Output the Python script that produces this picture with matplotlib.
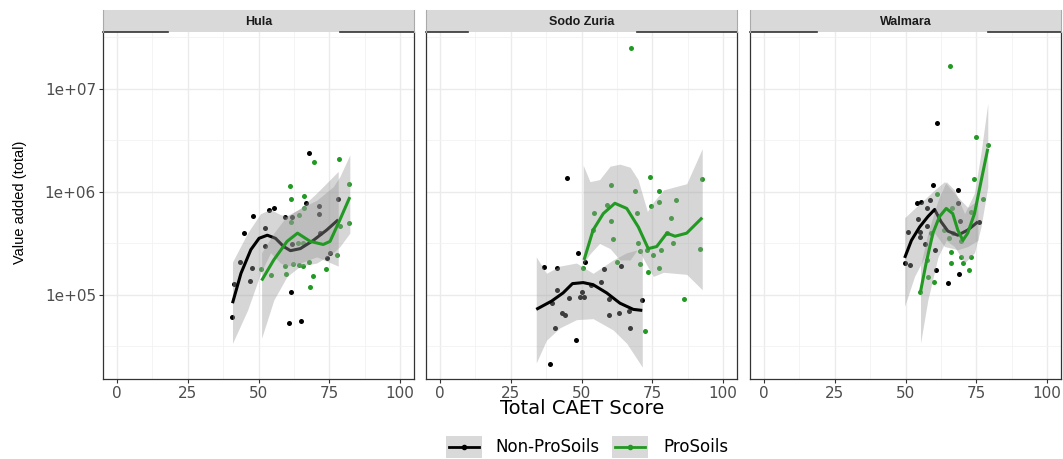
import numpy as np
import matplotlib.pyplot as plt
from matplotlib.patches import Rectangle
from matplotlib.lines import Line2D

districts = ["Hula", "Sodo Zuria", "Walmara"]
groups = ["Non-ProSoils", "ProSoils"]
group_colors = ["black", "#229922"]

# --- raw points: CAET score and log10(value added) ---
hula_non_x = [68.0, 55.4, 53.7, 48.1, 59.3, 61.8, 66.8, 71.5, 71.5, 78.2, 44.7, 52.3, 52.3,
              47.7, 47.0, 43.5, 41.4, 40.6, 61.6, 60.7, 65.2, 71.8, 74.1, 75.3, 62.0]
hula_non_y = [6.38, 5.84, 5.82, 5.77, 5.76, 5.76, 5.89, 5.86, 5.79, 5.93, 5.60, 5.65, 5.48,
              5.26, 5.14, 5.32, 5.11, 4.79, 5.03, 4.73, 4.75, 5.60, 5.36, 5.41, 5.49]
hula_pro_x = [69.8, 78.5, 61.3, 61.6, 66.2, 66.2, 64.5, 82.0, 82.0, 78.8, 61.5, 77.9, 73.8,
              69.4, 68.3, 67.7, 64.5, 65.9, 62.2, 59.8, 59.3, 54.5, 50.8, 65.9, 64.0]
hula_pro_y = [6.29, 6.32, 6.06, 5.93, 5.96, 5.84, 5.78, 6.08, 5.70, 5.67, 5.71, 5.39, 5.25,
              5.18, 5.08, 5.32, 5.29, 5.28, 5.30, 5.20, 5.28, 5.19, 5.25, 5.50, 5.50]

sodo_non_x = [44.7, 48.9, 36.6, 41.3, 64.1, 41.4, 45.5, 39.4, 43.0, 44.2, 40.8, 48.2, 38.9,
              50.2, 49.4, 51.0, 56.9, 58.0, 59.8, 59.8, 63.4, 66.7, 67.1, 71.5, 51.4, 53.4]
sodo_non_y = [6.14, 5.41, 5.27, 5.26, 5.28, 5.05, 4.97, 4.92, 4.82, 4.81, 4.68, 4.56, 4.33,
              5.03, 4.98, 4.98, 5.13, 5.25, 4.96, 4.81, 4.82, 4.84, 4.68, 4.95, 5.32, 5.10]
sodo_pro_x = [67.6, 74.2, 77.4, 77.4, 74.5, 83.3, 92.7, 60.4, 69.0, 58.9, 54.3, 69.6, 81.6,
              60.4, 54.0, 80.1, 61.1, 70.1, 82.2, 70.7, 73.0, 78.0, 92.0, 75.4, 62.6, 70.8,
              77.5, 73.4, 50.6, 86.4, 72.6]
sodo_pro_y = [7.40, 6.15, 6.01, 5.90, 5.86, 5.92, 6.13, 6.07, 6.01, 5.87, 5.80, 5.80, 5.75,
              5.72, 5.63, 5.60, 5.54, 5.50, 5.50, 5.43, 5.44, 5.44, 5.45, 5.39, 5.32, 5.30,
              5.26, 5.22, 5.26, 4.96, 4.65]

walm_non_x = [61.0, 59.9, 68.5, 68.5, 54.1, 55.6, 58.5, 57.7, 54.4, 51.0, 55.2, 55.3, 57.7,
              56.8, 60.5, 49.7, 51.7, 60.8, 68.9, 65.0, 75.9, 69.1]
walm_non_y = [6.67, 6.07, 6.02, 5.89, 5.89, 5.90, 5.92, 5.84, 5.74, 5.61, 5.61, 5.56, 5.67,
              5.49, 5.44, 5.31, 5.29, 5.24, 5.20, 5.12, 5.71, 5.72]
walm_pro_x = [65.9, 75.0, 79.1, 74.1, 77.4, 61.1, 66.4, 73.2, 63.6, 59.1, 66.7, 65.3, 69.7,
              66.2, 69.7, 73.2, 57.6, 66.2, 70.4, 72.6, 57.9, 60.0, 55.3]
walm_pro_y = [7.22, 6.53, 6.46, 6.13, 5.93, 5.98, 5.84, 5.81, 5.63, 5.60, 5.60, 5.55, 5.52,
              5.42, 5.37, 5.37, 5.34, 5.31, 5.31, 5.24, 5.17, 5.13, 5.03]

# --- loess fits (log10 scale) ---
hula_non_fit_x = [40.8, 43.8, 47.3, 50.2, 53.1, 56.0, 58.9, 61.3, 64.8, 69.4, 74.1, 78.2]
hula_non_fit = [4.92, 5.21, 5.44, 5.55, 5.58, 5.55, 5.47, 5.43, 5.45, 5.53, 5.63, 5.73]
hula_non_band_x = [40.8, 46.1, 50.75, 54.25, 57.75, 60.1, 64.75, 70.6, 78.2]
hula_non_hi = [5.32, 5.60, 5.79, 5.83, 5.78, 5.76, 5.84, 5.99, 6.20]
hula_non_lo = [4.53, 4.85, 5.21, 5.41, 5.31, 5.28, 5.31, 5.37, 5.28]

hula_pro_fit_x = [51.1, 55.4, 60.1, 63.8, 68.3, 72.9, 75.3, 78.8, 82.3]
hula_pro_fit = [5.14, 5.34, 5.52, 5.60, 5.52, 5.49, 5.52, 5.73, 5.95]
hula_pro_band_x = [51.1, 55.4, 60.1, 64.8, 70.6, 76.4, 78.8, 82.3]
hula_pro_hi = [5.41, 5.60, 5.77, 5.84, 5.92, 6.05, 6.15, 6.36]
hula_pro_lo = [4.58, 4.95, 5.18, 5.28, 5.31, 5.41, 5.47, 5.60]

sodo_non_fit_x = [34.0, 39.4, 43.5, 46.8, 50.6, 54.1, 58.9, 63.6, 68.3, 71.5]
sodo_non_fit = [4.86, 4.94, 5.02, 5.11, 5.12, 5.10, 5.02, 4.92, 4.86, 4.85]
sodo_non_band_x = [34.0, 37.6, 42.3, 48.2, 54.1, 61.2, 66.0, 71.5]
sodo_non_hi = [5.37, 5.21, 5.28, 5.31, 5.21, 5.34, 5.41, 5.45]
sodo_non_lo = [4.34, 4.56, 4.68, 4.76, 4.77, 4.66, 4.53, 4.30]

sodo_pro_fit_x = [50.9, 54.1, 57.7, 61.8, 66.0, 70.1, 73.6, 76.6, 80.2, 83.1, 87.2, 92.7]
sodo_pro_fit = [5.34, 5.63, 5.79, 5.89, 5.84, 5.66, 5.45, 5.47, 5.60, 5.57, 5.60, 5.75]
sodo_pro_band_x = [50.6, 53.0, 56.4, 60.1, 63.6, 67.2, 70.0, 73.3, 75.4, 79.0, 87.2, 92.7]
sodo_pro_hi = [6.26, 6.10, 6.12, 6.25, 6.27, 6.24, 6.12, 5.81, 5.90, 6.02, 6.08, 6.42]
sodo_pro_lo = [5.30, 5.40, 5.50, 5.45, 5.34, 5.34, 5.45, 5.28, 5.18, 5.22, 5.20, 5.05]

walm_non_fit_x = [49.7, 52.1, 55.0, 57.9, 60.3, 62.6, 65.0, 68.5, 72.0, 75.6]
walm_non_fit = [5.36, 5.53, 5.66, 5.76, 5.83, 5.71, 5.62, 5.58, 5.63, 5.71]
walm_non_band_x = [49.7, 53.2, 56.8, 60.3, 63.8, 68.5, 72.0, 75.6]
walm_non_hi = [5.75, 5.84, 5.93, 6.02, 6.10, 5.95, 5.85, 5.92]
walm_non_lo = [4.89, 5.18, 5.37, 5.60, 5.47, 5.44, 5.47, 5.53]

walm_pro_fit_x = [55.3, 57.3, 59.7, 62.0, 64.4, 66.7, 68.5, 70.3, 72.0, 74.4, 76.7, 79.1]
walm_pro_fit = [5.03, 5.31, 5.60, 5.76, 5.84, 5.79, 5.63, 5.53, 5.60, 5.79, 6.10, 6.42]
walm_pro_band_x = [55.3, 57.9, 61.5, 64.4, 67.3, 70.9, 74.4, 76.7, 79.1]
walm_pro_hi = [5.28, 5.60, 5.92, 6.10, 6.02, 5.79, 5.99, 6.38, 6.86]
walm_pro_lo = [4.53, 4.95, 5.37, 5.53, 5.47, 5.31, 5.41, 5.66, 6.05]

panels = [
    [(hula_non_x, hula_non_y, hula_non_fit_x, hula_non_fit, hula_non_band_x, hula_non_lo, hula_non_hi),
     (hula_pro_x, hula_pro_y, hula_pro_fit_x, hula_pro_fit, hula_pro_band_x, hula_pro_lo, hula_pro_hi)],
    [(sodo_non_x, sodo_non_y, sodo_non_fit_x, sodo_non_fit, sodo_non_band_x, sodo_non_lo, sodo_non_hi),
     (sodo_pro_x, sodo_pro_y, sodo_pro_fit_x, sodo_pro_fit, sodo_pro_band_x, sodo_pro_lo, sodo_pro_hi)],
    [(walm_non_x, walm_non_y, walm_non_fit_x, walm_non_fit, walm_non_band_x, walm_non_lo, walm_non_hi),
     (walm_pro_x, walm_pro_y, walm_pro_fit_x, walm_pro_fit, walm_pro_band_x, walm_pro_lo, walm_pro_hi)],
]

# strip bottom-line segments (axes fraction) seen in the original
strip_gaps = [(0.209, 0.762), (0.135, 0.680), (0.215, 0.765)]

W, H = 1063, 459
fig = plt.figure(figsize=(W / 100, H / 100), dpi=100)
lefts = [103, 426, 750]
width = 311
top_px, bot_px, strip_top = 32, 379, 10

tick_col = "#4d4d4d"
for i, name in enumerate(districts):
    ax = fig.add_axes([lefts[i] / W, 1 - bot_px / H, width / W, (bot_px - top_px) / H])
    ax.set_yscale("log")
    ax.set_xlim(-5, 105)
    ax.set_ylim(10 ** 4.184, 10 ** 7.553)
    ax.set_xticks([0, 25, 50, 75, 100])
    ax.set_xticks([12.5, 37.5, 62.5, 87.5], minor=True)
    ax.set_yticks([1e5, 1e6, 1e7])
    ax.set_yticks([10 ** 4.5, 10 ** 5.5, 10 ** 6.5, 10 ** 7.5], minor=True)
    ax.grid(True, which="major", color="#ebebeb", lw=1.0)
    ax.grid(True, which="minor", color="#f2f2f2", lw=0.6)
    ax.set_axisbelow(True)
    ax.tick_params(which="minor", length=0)
    ax.tick_params(which="major", length=3, color="#333333", width=0.8,
                   labelsize=11, labelcolor=tick_col, pad=2)
    if i == 0:
        ax.set_yticklabels(["1e+05", "1e+06", "1e+07"])
    else:
        ax.tick_params(axis="y", which="both", left=False, labelleft=False)
    for s in ["left", "bottom", "right"]:
        ax.spines[s].set_color("#333333")
        ax.spines[s].set_linewidth(0.9)
    ax.spines["top"].set_visible(False)

    data = panels[i]
    for g, (px, py, fx, fy, bx, lo, hi) in enumerate(data):
        ax.scatter(px, 10 ** np.array(py), s=13, color=group_colors[g], lw=0, zorder=2)
    z = 3
    for g, (px, py, fx, fy, bx, lo, hi) in enumerate(data):
        ax.fill_between(bx, 10 ** np.array(lo), 10 ** np.array(hi),
                        color="#999999", alpha=0.4, lw=0, zorder=z)
        ax.plot(fx, 10 ** np.array(fy), color=group_colors[g], lw=2.2, zorder=z + 1,
                solid_capstyle="butt")
        z += 2

    # facet strip
    sax = fig.add_axes([lefts[i] / W, 1 - top_px / H, width / W, (top_px - strip_top) / H])
    sax.set_xlim(0, 1)
    sax.set_ylim(0, 1)
    sax.set_xticks([])
    sax.set_yticks([])
    sax.set_facecolor("#d9d9d9")
    for s in sax.spines.values():
        s.set_visible(False)
    sax.plot([0, strip_gaps[i][0]], [0, 0], color="#333333", lw=1.2, clip_on=False)
    sax.plot([strip_gaps[i][1], 1], [0, 0], color="#333333", lw=1.2, clip_on=False)
    sax.plot([0, 0], [0, 1], color="#aaaaaa", lw=0.8, clip_on=False)
    sax.plot([1, 1], [0, 1], color="#aaaaaa", lw=0.8, clip_on=False)
    sax.text(0.5, 0.45, name, ha="center", va="center", fontsize=9, fontweight="bold",
             family="Liberation Sans", color="#1a1a1a")

fig.text(0.5475, 1 - 409 / H, "Total CAET Score", ha="center", va="center", fontsize=14,
         color="black")
fig.text(0.019, 0.56, "Value added (total)", ha="center", va="center", rotation=90,
         fontsize=10.5, family=["Liberation Sans Narrow", "Liberation Sans"], color="black")

# legend
key_y0, key_h = 1 - 458 / H, 22 / H
for g, (kx, tx) in enumerate([(446, 495), (612, 663)]):
    fig.patches.append(Rectangle((kx / W, key_y0), 36 / W, key_h, transform=fig.transFigure,
                                 facecolor="#d9d9d9", edgecolor="none"))
    fig.lines.append(Line2D([(kx + 3) / W, (kx + 33) / W], [key_y0 + key_h / 2] * 2,
                            transform=fig.transFigure, color=group_colors[g], lw=2))
    fig.lines.append(Line2D([(kx + 18) / W], [key_y0 + key_h / 2], transform=fig.transFigure,
                            color=group_colors[g], marker="o", markersize=3, lw=0))
    fig.text(tx / W, key_y0 + key_h / 2, groups[g], ha="left", va="center", fontsize=12,
             color="black")

fig.savefig("out.png", dpi=100)
